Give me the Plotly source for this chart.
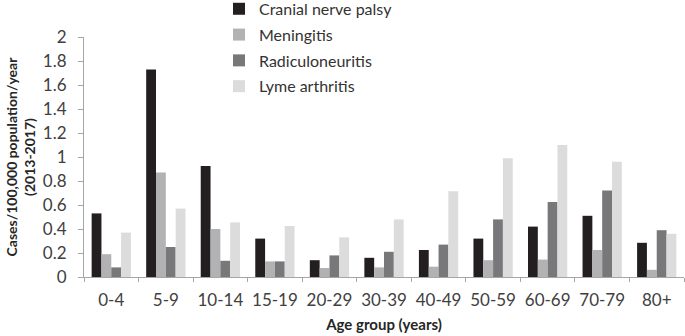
import plotly.graph_objects as go

age_groups = ["0-4", "5-9", "10-14", "15-19", "20-29", "30-39", "40-49", "50-59", "60-69", "70-79", "80+"]
cranial_nerve_palsy = [0.53, 1.73, 0.925, 0.32, 0.14, 0.16, 0.225, 0.32, 0.42, 0.51, 0.285]
meningitis = [0.19, 0.87, 0.40, 0.13, 0.075, 0.08, 0.086, 0.14, 0.145, 0.225, 0.06]
radiculoneuritis = [0.08, 0.25, 0.135, 0.13, 0.18, 0.21, 0.27, 0.48, 0.625, 0.72, 0.39]
lyme_arthritis = [0.37, 0.57, 0.455, 0.425, 0.33, 0.48, 0.715, 0.99, 1.10, 0.96, 0.36]

series = [
    ("Cranial nerve palsy", cranial_nerve_palsy, "#231f20"),
    ("Meningitis", meningitis, "#b2b2b4"),
    ("Radiculoneuritis", radiculoneuritis, "#78787b"),
    ("Lyme arthritis", lyme_arthritis, "#dcdcdd"),
]

font_family = "Lato"
fig = go.Figure()
for name, vals, color in series:
    fig.add_trace(go.Bar(x=age_groups, y=vals, name=name, legendgroup=name,
                         marker=dict(color=color, line=dict(width=0))))

fig.update_layout(
    width=685, height=336,
    margin=dict(l=84, r=1, t=37, b=59, autoexpand=False),
    barmode="group", bargap=0.28, bargroupgap=0,
    plot_bgcolor="white", paper_bgcolor="white",
    font=dict(family=font_family, size=17, color="#404040"),
    legend=dict(x=0.225, y=1.188, xanchor="left", yanchor="top",
                font=dict(size=16, color="#333333"), tracegroupgap=2,
                bgcolor="rgba(0,0,0,0)"),
    xaxis=dict(showline=True, linecolor="#a6a6a6", linewidth=1, ticks="outside",
               tickson="boundaries", ticklen=4, tickcolor="#a6a6a6", automargin=False,
               tickangle=0, ticklabelstandoff=8, tickfont=dict(size=17, color="#404040"),
               title=dict(text="<b>Age group (years)</b>", font=dict(size=15, color="#262626"), standoff=10)),
    yaxis=dict(range=[0, 2], dtick=0.2, showgrid=False, zeroline=False, showline=True,
               linecolor="#a6a6a6", linewidth=1, ticks="outside", ticklen=5, tickcolor="#a6a6a6",
               automargin=False, ticklabelstandoff=8,
               tickfont=dict(size=17, color="#404040"),
               title=dict(text="<b>Cases/100,000 population/year<br>(2013-2017)</b>",
                          font=dict(size=14, color="#262626"), standoff=3)),
)

fig.write_html("out.html", config={"displayModeBar": False},
               post_script="document.body.style.margin='0';")
